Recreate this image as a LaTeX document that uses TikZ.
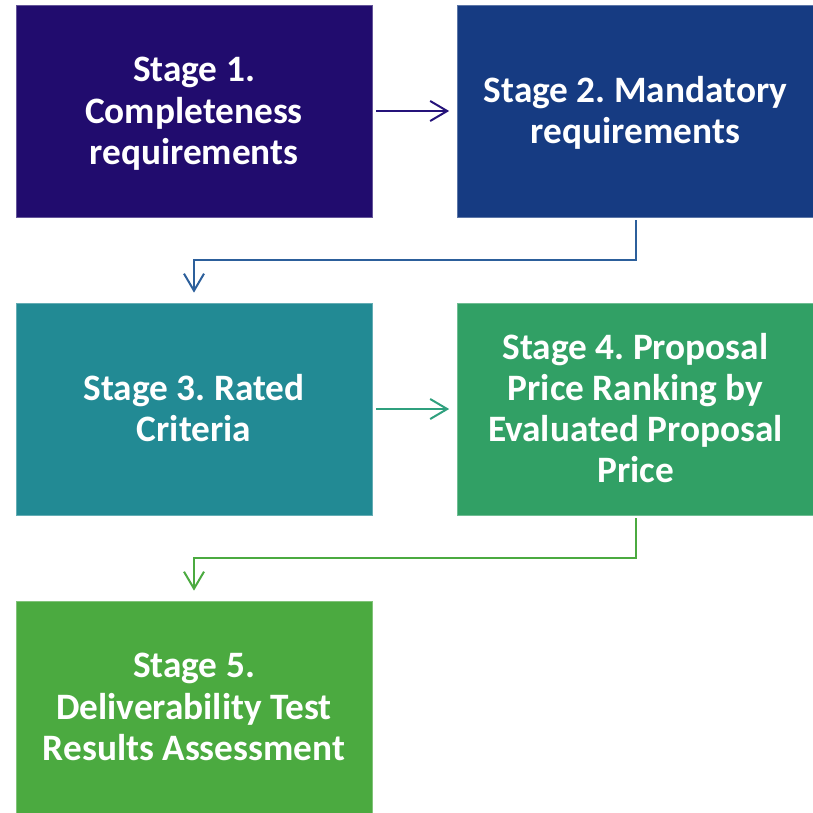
\documentclass[tikz,border=0pt]{standalone}
\usepackage{fontspec}
\setmainfont{Carlito}
\usetikzlibrary{arrows.meta}
\definecolor{cA}{HTML}{210C6E}
\definecolor{cB}{HTML}{163B82}
\definecolor{cC}{HTML}{228A94}
\definecolor{cD}{HTML}{31A065}
\definecolor{cE}{HTML}{4BAA40}
\definecolor{aA}{HTML}{25137A}
\definecolor{aB}{HTML}{2C5F9B}
\definecolor{aC}{HTML}{2FA07E}
\definecolor{aD}{HTML}{4BAA40}
\frenchspacing
\newcommand\sttop{\rule{0pt}{30pt}}
\newcommand\stbot{\rule[-9pt]{0pt}{0pt}}
\tikzset{
  stagebox/.style={rectangle, inner sep=0pt, minimum width=356pt, minimum height=212pt,
    line width=0.7pt},
  stagetext/.style={align=center, text=white, inner sep=0pt, yshift=-1.5pt,
    font=\fontsize{37.3}{41.2}\selectfont\bfseries},
  conn/.style={line width=2pt, -{Straight Barb[length=17pt,width=20pt,line width=2pt]}}
}
\begin{document}
\begin{tikzpicture}[x=1pt,y=-1pt]
\useasboundingbox (0,0) rectangle (813,812);
\node[stagebox, fill=cA, draw=cA!70!white, label={[stagetext]center:{\sttop Stage 1.\\Completeness\\requirements\stbot}}] (b1) at (194,111) {};
\node[stagebox, fill=cB, draw=cB!70!white, label={[stagetext]center:{\sttop Stage 2. Mandatory\\requirements\stbot}}] (b2) at (635.5,111) {};
\node[stagebox, fill=cC, draw=cC!70!white, label={[stagetext]center:{\sttop Stage 3. Rated\\Criteria\stbot}}] (b3) at (194,409) {};
\node[stagebox, fill=cD, draw=cD!70!white, label={[stagetext]center:{\sttop Stage 4. Proposal\\Price Ranking by\\Evaluated Proposal\\Price\stbot}}] (b4) at (635.5,409) {};
\node[stagebox, fill=cE, draw=cE!70!white, label={[stagetext]center:{\sttop Stage 5.\\Deliverability Test\\Results Assessment\stbot}}] (b5) at (194,707) {};
\draw[conn, aA, shorten <=4pt, shorten >=8pt] (b1.east) -- (b2.west);
\draw[conn, aB, shorten <=3pt, shorten >=10pt] (b2.south) -- ++(0,43) -| (b3.north);
\draw[conn, aC, shorten <=4pt, shorten >=8pt] (b3.east) -- (b4.west);
\draw[conn, aD, shorten <=3pt, shorten >=10pt] (b4.south) -- ++(0,43) -| (b5.north);
\end{tikzpicture}
\end{document}
